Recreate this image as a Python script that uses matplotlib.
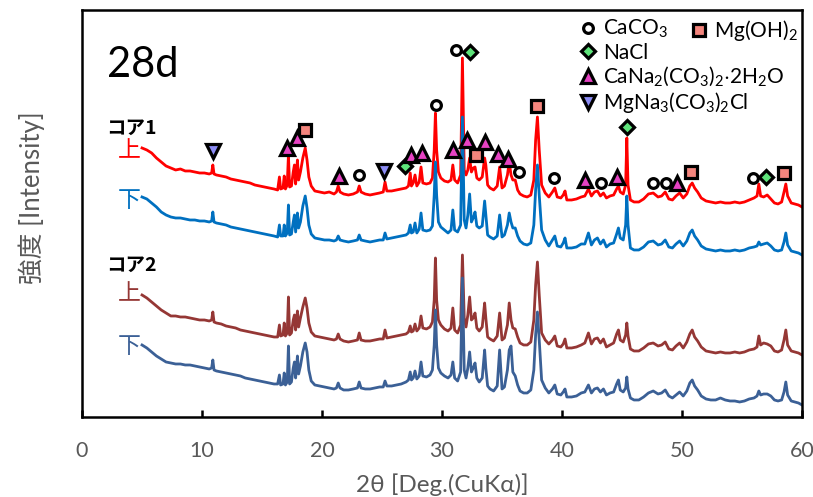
import matplotlib
matplotlib.use("Agg")
import matplotlib.pyplot as plt
from matplotlib.lines import Line2D

plt.rcParams['font.family'] = ['Lato', 'Noto Sans CJK JP']
plt.rcParams['mathtext.fontset'] = 'custom'
plt.rcParams['mathtext.rm'] = 'Lato'

# 2theta grid (deg)
two_theta = [
    5.0, 5.4, 5.8, 6.2, 6.6, 7.0, 7.4, 7.8, 8.2, 8.6, 9.0, 9.4, 9.8, 10.2, 10.6, 10.8, 10.9, 11.0, 11.2, 11.6,
    12.0, 12.4, 12.8, 13.2, 13.6, 14.0, 14.4, 14.8, 15.2, 15.6, 16.0, 16.3,
    16.45, 16.55, 16.75, 16.85, 16.95, 17.1, 17.2, 17.3, 17.45, 17.6, 17.7, 17.8, 17.95, 18.05, 18.2, 18.4,
    18.6, 18.75, 18.9, 19.1, 19.4,
    19.8, 20.2, 20.6, 21.0, 21.2, 21.35, 21.5, 21.8, 22.2, 22.6, 22.95, 23.1, 23.25, 23.6, 24.0, 24.4, 24.8,
    25.1, 25.25, 25.4, 25.8, 26.2, 26.6, 27.0, 27.2, 27.35, 27.45, 27.6, 27.75, 27.9, 28.1, 28.25, 28.4,
    28.7, 29.0, 29.2,
    29.35, 29.45, 29.55, 29.7, 29.9, 30.2, 30.5, 30.75, 30.9, 31.05, 31.3, 31.55, 31.7, 31.85, 32.0, 32.15,
    32.3, 32.45, 32.6, 32.75, 32.9, 33.1, 33.35, 33.55, 33.65, 33.8, 34.0, 34.3, 34.6, 34.8, 35.0, 35.2,
    35.45, 35.6, 35.75, 35.9, 36.1, 36.3, 36.5, 36.8, 37.1,
    37.4, 37.65, 37.8, 37.95, 38.1, 38.3, 38.6, 38.9,
    39.2, 39.4, 39.6, 39.9, 40.1, 40.25, 40.4, 40.8, 41.2, 41.6, 41.9, 42.2, 42.45, 42.7, 42.95, 43.2,
    43.45, 43.7, 44.0, 44.3, 44.55, 44.7, 44.85, 45.1, 45.3, 45.4, 45.5, 45.7, 46.0, 46.4, 46.8, 47.2,
    47.6, 48.0, 48.3, 48.6, 48.9, 49.2, 49.5, 49.8, 50.1, 50.4, 50.65, 50.85, 51.05, 51.3, 51.6, 52.0,
    52.4, 52.8, 53.2, 53.6, 54.0, 54.4, 54.8, 55.2, 55.6, 56.0, 56.25, 56.4, 56.55, 56.8, 57.1, 57.4,
    57.7, 58.0, 58.3, 58.5, 58.65, 58.8, 59.1, 59.4, 59.7, 60.0,
]

# intensities (a.u., stacked)
core1_top = [
    269, 267, 264, 259, 255, 251, 249, 247, 248, 246, 246, 245, 244, 244, 243, 244, 252, 243, 242, 241,
    240, 238, 237, 236, 235, 234, 232, 231, 230, 229, 228, 227,
    240, 228, 229, 241, 228, 232, 262, 230, 231, 245, 252, 233, 257, 237, 245, 259, 269, 257, 240, 231, 226,
    225, 224, 225, 223, 225, 231, 225, 223, 222, 223, 225, 231, 225, 223, 222, 223, 224, 225, 235, 226,
    226, 227, 228, 229, 231, 244, 231, 234, 242, 231, 235, 250, 234, 233, 234, 239,
    267, 304, 267, 245, 239, 236, 235, 237, 252, 237, 234, 242, 359, 247, 242, 247, 259, 245, 249, 250,
    239, 237, 240, 259, 252, 232, 229, 227, 231, 250, 229, 231, 242, 255, 242, 237, 237, 227, 223, 221, 220,
    222, 237, 277, 300, 267, 232, 224, 220,
    225, 229, 220, 219, 222, 226, 217, 217, 218, 220, 221, 228, 221, 225, 226, 221, 224, 219, 221, 222,
    228, 231, 225, 223, 232, 279, 232, 217, 215, 215, 218, 223, 224, 220, 221, 225, 218, 217, 221, 224,
    219, 223, 231, 234, 229, 225, 219, 216, 215, 214, 215, 214, 214, 215, 214, 215, 217, 219, 221, 233,
    221, 220, 222, 218, 214, 213, 215, 225, 233, 221, 214, 213, 212, 210,
]
core1_bottom = [
    220, 218, 214, 210, 205, 202, 200, 199, 199, 198, 197, 197, 196, 196, 195, 196, 205, 195, 194, 193,
    192, 190, 189, 188, 187, 186, 185, 184, 183, 182, 181, 180,
    192, 181, 181, 192, 181, 184, 212, 182, 183, 195, 202, 185, 204, 189, 195, 211, 221, 209, 192, 183, 179,
    178, 177, 177, 176, 177, 181, 177, 176, 175, 176, 177, 182, 177, 176, 175, 176, 177, 177, 184, 178,
    179, 180, 181, 182, 184, 192, 184, 185, 194, 184, 188, 204, 187, 186, 187, 191,
    222, 255, 222, 195, 190, 187, 184, 187, 207, 187, 185, 192, 300, 197, 189, 202, 223, 195, 199, 205,
    191, 189, 191, 216, 202, 182, 180, 178, 181, 202, 180, 182, 192, 204, 195, 189, 189, 181, 176, 173, 172,
    174, 192, 227, 252, 222, 187, 177, 171,
    177, 181, 171, 170, 174, 179, 169, 169, 170, 173, 173, 184, 172, 177, 179, 173, 177, 170, 173, 174,
    183, 189, 179, 177, 192, 221, 192, 169, 167, 167, 170, 175, 176, 172, 173, 177, 170, 169, 173, 176,
    171, 176, 184, 187, 181, 177, 171, 168, 167, 166, 167, 166, 166, 167, 166, 167, 169, 170, 171, 175,
    172, 173, 174, 171, 167, 166, 167, 175, 184, 172, 166, 165, 164, 162,
]
core2_top = [
    122, 119, 115, 111, 107, 104, 101, 101, 100, 100, 99, 98, 97, 97, 96, 97, 105, 95, 94, 93,
    91, 90, 89, 87, 86, 85, 84, 83, 82, 81, 80, 80,
    92, 81, 82, 94, 81, 84, 120, 82, 84, 97, 102, 87, 106, 90, 99, 110, 119, 109, 94, 85, 81,
    80, 79, 78, 77, 78, 83, 78, 76, 75, 76, 77, 84, 77, 76, 76, 77, 78, 78, 87, 79,
    80, 81, 82, 83, 85, 91, 85, 86, 93, 86, 89, 101, 89, 88, 90, 95,
    117, 159, 117, 97, 92, 88, 86, 89, 109, 87, 84, 92, 162, 99, 90, 102, 120, 97, 99, 104,
    89, 86, 90, 114, 99, 80, 78, 76, 81, 104, 77, 79, 92, 114, 97, 89, 88, 80, 74, 72, 72,
    75, 97, 132, 155, 122, 84, 77, 73,
    77, 81, 71, 70, 73, 78, 69, 69, 70, 72, 74, 84, 73, 78, 79, 74, 78, 70, 72, 74,
    83, 87, 77, 75, 82, 94, 81, 68, 66, 66, 69, 73, 74, 71, 72, 75, 68, 67, 71, 74,
    69, 75, 83, 87, 80, 76, 70, 66, 65, 64, 65, 64, 64, 65, 64, 65, 67, 68, 70, 81,
    72, 74, 73, 71, 66, 65, 67, 77, 87, 72, 66, 65, 64, 62,
]
core2_bottom = [
    72, 69, 65, 61, 58, 55, 54, 53, 53, 52, 52, 51, 50, 49, 48, 49, 57, 47, 46, 45,
    44, 43, 42, 41, 39, 38, 37, 36, 35, 34, 33, 33,
    42, 32, 33, 44, 32, 35, 71, 33, 35, 49, 55, 39, 61, 43, 51, 65, 74, 65, 47, 36, 32,
    31, 30, 29, 28, 29, 34, 29, 27, 27, 28, 29, 35, 29, 28, 28, 29, 30, 30, 36, 31,
    31, 32, 33, 35, 37, 45, 37, 39, 46, 38, 41, 55, 41, 40, 42, 47,
    72, 107, 72, 49, 44, 41, 39, 42, 55, 39, 36, 45, 139, 47, 39, 49, 65, 45, 49, 54,
    39, 35, 39, 67, 49, 31, 28, 26, 31, 67, 28, 30, 47, 67, 71, 45, 41, 32, 26, 24, 24,
    27, 47, 82, 105, 77, 37, 29, 24,
    28, 32, 23, 22, 25, 28, 20, 20, 21, 24, 25, 32, 24, 28, 29, 25, 28, 22, 24, 25,
    33, 37, 27, 25, 29, 40, 28, 19, 17, 17, 20, 24, 26, 23, 24, 27, 21, 19, 22, 25,
    21, 26, 34, 37, 31, 27, 21, 18, 17, 17, 19, 17, 16, 16, 15, 16, 18, 19, 21, 26,
    22, 23, 23, 21, 17, 16, 17, 25, 35, 22, 16, 15, 14, 12,
]

# phase marks on core1 (top) pattern: 2theta and marker height
caco3_x = [23.1, 29.5, 31.2, 36.4, 39.3, 43.25, 47.6, 48.7, 55.9]
caco3_y = [242, 312, 367, 245, 239, 234, 234, 234, 239]
mgoh_x = [18.6, 32.8, 37.9, 50.75, 58.5]
mgoh_y = [287, 262, 311, 245, 244]
nacl_x = [26.9, 32.3, 45.4, 57.0]
nacl_y = [251, 365, 290, 240]
cana_x = [17.1, 17.9, 21.4, 27.4, 28.3, 30.9, 32.1, 33.6, 34.7, 35.5, 41.9, 44.6, 49.6]
cana_y = [269, 279, 241, 262, 264, 267, 277, 275, 263, 258, 237, 240, 234]
mgna_x = [10.9, 25.2]
mgna_y = [266, 246]

colors = ['#FF0000', '#0070C0', '#953735', '#3B6096']
gray = '#595959'

fig = plt.figure(figsize=(8.13, 4.97), dpi=100)
ax = fig.add_axes([0.1009, 0.161, 0.8856, 0.8189])

for ys, c in zip([core1_top, core1_bottom, core2_top, core2_bottom], colors):
    ax.plot(two_theta, ys, color=c, lw=2.0, zorder=2)

mk = dict(ls='none', mec='black', mew=2.3, zorder=5, clip_on=False)
st_caco3 = dict(marker='o', ms=7, mfc='white', **mk)
st_mgoh = dict(marker='s', ms=8, mfc='#F4857D', **mk)
st_nacl = dict(marker='D', ms=7, mfc='#5EE37A', **mk)
st_cana = dict(marker='^', ms=10.5, mfc='#E642C3', **mk)
st_mgna = dict(marker='v', ms=10.5, mfc='#8C8CF5', **mk)

ax.plot(caco3_x, caco3_y, **st_caco3)
ax.plot(mgoh_x, mgoh_y, **st_mgoh)
ax.plot(nacl_x, nacl_y, **st_nacl)
ax.plot(cana_x, cana_y, **st_cana)
ax.plot(mgna_x, mgna_y, **st_mgna)

# legend
h1 = [Line2D([], [], **st_caco3), Line2D([], [], **st_nacl),
      Line2D([], [], **st_cana), Line2D([], [], **st_mgna)]
l1 = [r'$\mathregular{CaCO_3}$', 'NaCl',
      r'$\mathregular{CaNa_2(CO_3)_2{\cdot}2H_2O}$', r'$\mathregular{MgNa_3(CO_3)_2Cl}$']
leg1 = ax.legend(h1, l1, loc='upper left', bbox_to_anchor=(0.691, 0.98), frameon=False,
                 fontsize=15, handlelength=0.8, handletextpad=0.32, labelspacing=0.1,
                 borderpad=0, borderaxespad=0, numpoints=1)
ax.add_artist(leg1)
ax.legend([Line2D([], [], **st_mgoh)], [r'$\mathregular{Mg(OH)_2}$'], loc='upper left',
          bbox_to_anchor=(0.846, 0.98), frameon=False, fontsize=15, handlelength=0.8,
          handletextpad=0.32, borderpad=0, borderaxespad=0, numpoints=1)

# labels inside
ax.text(5.1, 352, '28d', fontsize=30, ha='center', va='center')
jp = ['Noto Sans CJK JP']
ax.text(4.1, 289, 'コア1', family=jp, fontsize=14, fontweight='bold', ha='center', va='center')
ax.text(4.1, 152, 'コア2', family=jp, fontsize=14, fontweight='bold', ha='center', va='center')
ax.text(3.9, 266, '上', family=jp, fontsize=16.5, color=colors[0], ha='center', va='center')
ax.text(3.9, 216, '下', family=jp, fontsize=16.5, color=colors[1], ha='center', va='center')
ax.text(3.9, 123, '上', family=jp, fontsize=16.5, color=colors[2], ha='center', va='center')
ax.text(3.9, 70, '下', family=jp, fontsize=16.5, color=colors[3], ha='center', va='center')

ax.set_xlim(0, 60)
ax.set_ylim(0, 407)
ax.set_xticks(range(0, 61, 10))
ax.set_yticks([])
ax.tick_params(axis='x', direction='in', length=5, width=1.8, pad=17,
               labelsize=15.5, labelcolor=gray)
for s in ax.spines.values():
    s.set_linewidth(1.8)

ax.set_xlabel('2θ [Deg.(CuKα)]', fontsize=17.5, color=gray, labelpad=9)
ax.set_ylabel('強度 [Intensity]', fontsize=18.5, color=gray)
ax.yaxis.set_label_coords(-0.052, 0.538)

fig.savefig('out.png', dpi=100)
